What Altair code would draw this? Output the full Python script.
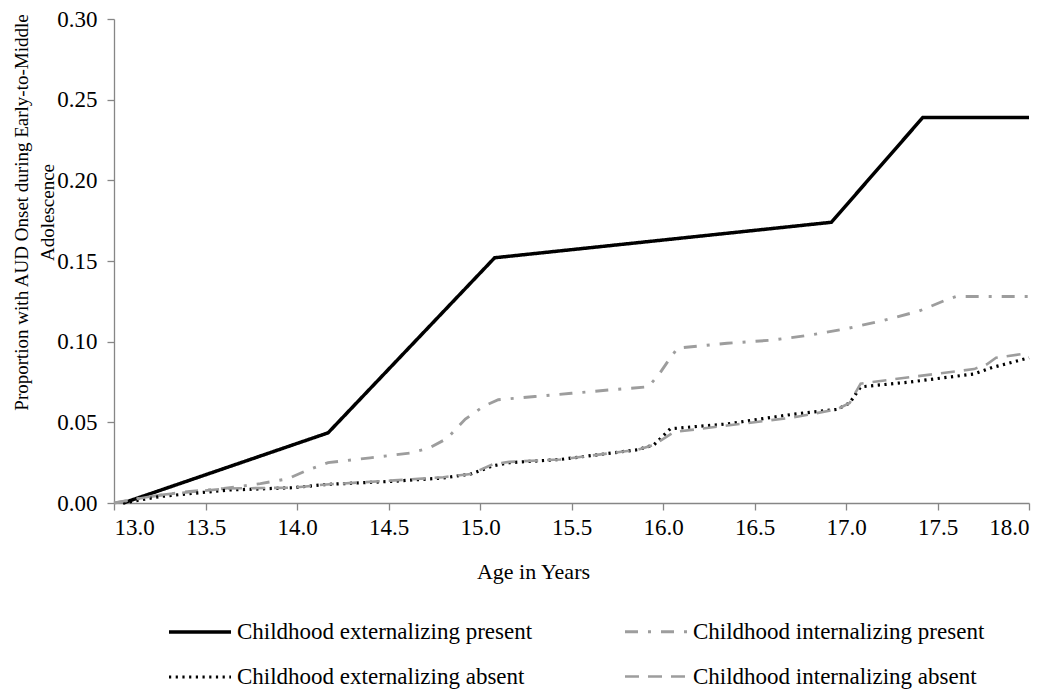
import altair as alt
import pandas as pd

# ---- data ----
ext_p = "Childhood externalizing present"
int_p = "Childhood internalizing present"
ext_a = "Childhood externalizing absent"
int_a = "Childhood internalizing absent"
# legend fills column by column: column 1 = externalizing, column 2 = internalizing
series_names = [ext_p, ext_a, int_p, int_a]

ext_present_x = [13.05, 14.17, 15.08, 16.92, 17.42, 18.0]
ext_present_y = [0.0, 0.0435, 0.152, 0.174, 0.239, 0.239]

int_present_x = [13.0, 13.2, 13.4, 13.6, 13.8, 13.95, 14.05, 14.17, 14.4, 14.62, 14.72, 14.82,
                 14.92, 15.02, 15.1, 15.3, 15.5, 15.7, 15.92, 15.98, 16.04, 16.08, 16.35, 16.6,
                 16.8, 17.0, 17.2, 17.4, 17.55, 17.6, 18.0]
int_present_y = [0.0, 0.004, 0.007, 0.009, 0.012, 0.015, 0.020, 0.025, 0.028, 0.031, 0.034, 0.040,
                 0.052, 0.060, 0.064, 0.066, 0.068, 0.070, 0.072, 0.080, 0.090, 0.096, 0.099, 0.101,
                 0.104, 0.108, 0.113, 0.119, 0.126, 0.128, 0.128]

ext_absent_x = [13.05, 13.25, 13.62, 13.98, 14.16, 14.53, 14.8, 14.95, 15.07, 15.16, 15.44, 15.86,
                15.95, 16.04, 16.35, 16.71, 16.95, 17.02, 17.08, 17.35, 17.7, 17.8, 18.0]
ext_absent_y = [0.0, 0.004, 0.008, 0.0095, 0.0115, 0.0135, 0.0155, 0.018, 0.023, 0.025, 0.027, 0.033,
                0.036, 0.046, 0.049, 0.055, 0.058, 0.062, 0.072, 0.075, 0.080, 0.084, 0.090]

int_absent_x = [13.0, 13.25, 13.62, 13.98, 14.16, 14.53, 14.8, 14.95, 15.07, 15.16, 15.44, 15.86,
                15.95, 16.06, 16.35, 16.71, 16.95, 17.02, 17.08, 17.35, 17.7, 17.77, 17.82, 18.0]
int_absent_y = [0.0, 0.005, 0.009, 0.0095, 0.0115, 0.014, 0.016, 0.018, 0.024, 0.0255, 0.027, 0.033,
                0.036, 0.044, 0.048, 0.053, 0.058, 0.062, 0.074, 0.078, 0.083, 0.086, 0.090, 0.093]

x_ticks = [13.0, 13.5, 14.0, 14.5, 15.0, 15.5, 16.0, 16.5, 17.0, 17.5, 18.0]
y_ticks = [0.0, 0.05, 0.10, 0.15, 0.20, 0.25, 0.30]

rows = []
for name, xs, ys in [
    (ext_p, ext_present_x, ext_present_y),
    (int_p, int_present_x, int_present_y),
    (ext_a, ext_absent_x, ext_absent_y),
    (int_a, int_absent_x, int_absent_y),
]:
    for i, (a, b) in enumerate(zip(xs, ys)):
        rows.append({"series": name, "age": a, "prop": b, "idx": i})
df = pd.DataFrame(rows)

FONT = "Liberation Serif"
# styles in the order of series_names: ext present, ext absent, int present, int absent
colors = ["#000000", "#000000", "#9d9d9d", "#9d9d9d"]
dashes = [[1, 0], [2.2, 4.5], [13, 10, 3, 10], [14, 9]]
widths = [3.5, 2.6, 3.5, 4.5]

leg = alt.Legend(title=None)

chart = alt.Chart(df).mark_line(clip=False).encode(
    x=alt.X("age:Q",
            scale=alt.Scale(domain=[13, 18], nice=False, zero=False),
            axis=alt.Axis(values=x_ticks, format=".1f", title="Age in Years",
                          titleX=419, titleY=75, titleBaseline="alphabetic",
                          titleAnchor=None)),
    y=alt.Y("prop:Q",
            scale=alt.Scale(domain=[0, 0.3], nice=False),
            axis=alt.Axis(values=y_ticks, format=".2f",
                          title=["Proportion with AUD Onset during Early-to-Middle", "Adolescence"],
                          titleAngle=-90, titleX=-87, titleY=193, titleAlign="center",
                          titleBaseline="alphabetic", titleFontSize=19, titleLineHeight=26)),
    color=alt.Color("series:N", scale=alt.Scale(domain=series_names, range=colors), legend=leg,
                    sort=series_names),
    strokeDash=alt.StrokeDash("series:N", scale=alt.Scale(domain=series_names, range=dashes),
                              legend=leg, sort=series_names),
    strokeWidth=alt.StrokeWidth("series:N", scale=alt.Scale(domain=series_names, range=widths),
                                legend=leg, sort=series_names),
    order="idx:Q",
).properties(
    width=915, height=484,
    autosize=alt.AutoSizeParams(type="none"),
    padding={"left": 106, "top": 11, "right": 12, "bottom": 186},
).configure_view(
    stroke=None
).configure_axis(
    domainColor="#868686", tickColor="#868686", domainWidth=1.3, tickWidth=1.3,
    tickSize=7, grid=False, labelFont=FONT, labelFontSize=23, labelColor="#000000",
    titleFont=FONT, titleFontSize=22, titleColor="#000000", titleFontWeight="normal",
).configure_axisY(
    labelPadding=10,
).configure_axisX(
    labelPadding=6,
).configure_legend(
    orient="none", legendX=53, legendY=580, columns=2, symbolType="stroke",
    symbolSize=3844, labelFont=FONT, labelFontSize=23, labelColor="#000000",
    labelOffset=4, columnPadding=86, rowPadding=-25, padding=0, labelLimit=400,
    symbolStrokeColor="#000000",
)

chart.save("out.html", embed_options={"renderer": "svg", "actions": False})
